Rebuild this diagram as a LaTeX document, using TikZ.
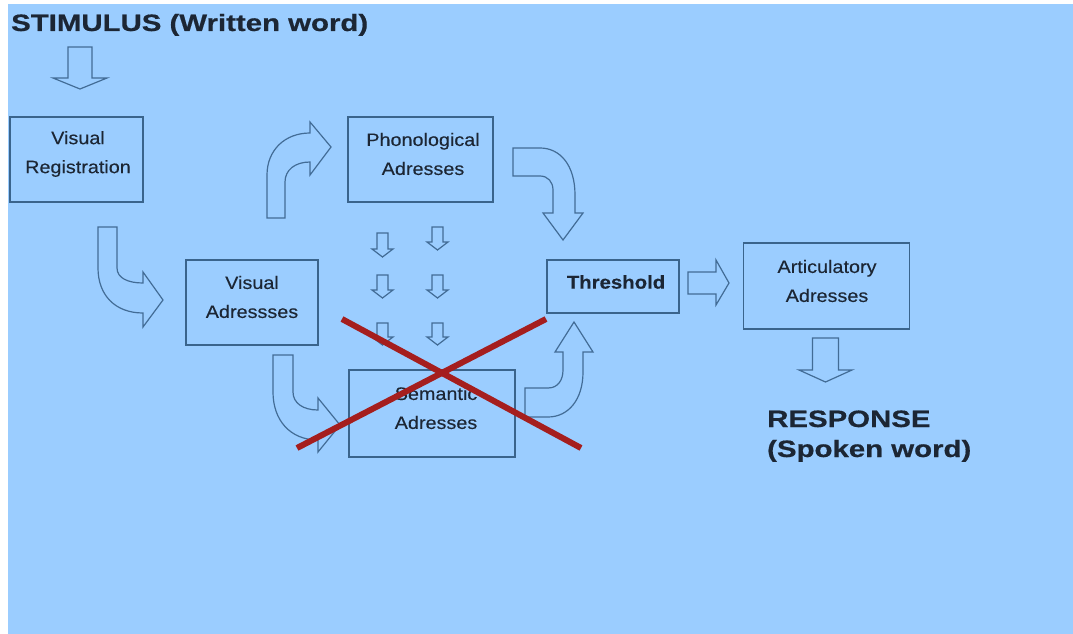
\documentclass[tikz,border=0pt]{standalone}
\usepackage{fontspec}
\setmainfont{Liberation Sans}
\newfontfamily\headfont[FakeStretch=1.24,FakeBold=0.6]{Liberation Sans}
\newfontfamily\boxfont[FakeStretch=1.1,FakeBold=0.25]{Liberation Sans}

\definecolor{panel}{RGB}{155,205,255}
\definecolor{frameline}{RGB}{58,100,140}
\definecolor{arrowline}{RGB}{66,108,150}
\definecolor{ink}{RGB}{28,38,52}
\definecolor{crossred}{RGB}{165,30,30}

% straight downward block arrow: centre x, top y, half shaft width, shaft end y, half head width, tip y
\newcommand\dnblock[6]{%
  \draw[blockarrow] (#1-#3,#2) -- (#1+#3,#2) -- (#1+#3,#4) -- (#1+#5,#4)
    -- (#1,#6) -- (#1-#5,#4) -- (#1-#3,#4) -- cycle;}

\tikzset{
  stagebox/.style={draw=frameline, line width=1.6pt, rectangle,
    inner sep=0pt, outer sep=0pt},
  stagetext/.style={text=ink, align=center, inner sep=0pt,
    font=\boxfont\fontsize{18}{29}\selectfont},
  headline/.style={text=ink, anchor=base west, inner sep=0pt,
    font=\headfont\bfseries\fontsize{23.7}{30}\selectfont},
  blockarrow/.style={draw=arrowline, line width=1.2pt, line join=miter},
  cross/.style={draw=crossred, line width=6pt},
}

\begin{document}
\begin{tikzpicture}[x=1pt, y=-1pt]
  \useasboundingbox (0,0) rectangle (1073,634);
  \fill[white] (0,0) rectangle (1073,634);
  \fill[panel] (8,4) rectangle (1073,634);

  % headings
  \node[headline] (stim) at (11,31) {STIMULUS (Written word)};
  \node[headline] (resp1) at (767,427) {RESPONSE};
  \node[headline] (resp2) at (767,457) {(Spoken word)};

  % processing stages
  \node[stagebox, minimum width=133pt, minimum height=85pt] (vr) at (76.5,159.5) {};
  \node[stagebox, minimum width=132pt, minimum height=85pt] (va) at (252,302.5) {};
  \node[stagebox, minimum width=145pt, minimum height=85pt] (ph) at (420.5,159.5) {};
  \node[stagebox, minimum width=166pt, minimum height=87pt] (se) at (432,413.5) {};
  \node[stagebox, minimum width=132pt, minimum height=53pt] (th) at (613,286.5) {};
  \node[stagebox, minimum width=166pt, minimum height=86pt] (ar) at (826.5,286) {};

  \node[stagetext] (vr-t) at (78,154) {Visual\\Registration};
  \node[stagetext] (va-t) at (252,297) {Visual\\Adressses};
  \node[stagetext] (ph-t) at (423,154) {Phonological\\Adresses};
  \node[stagetext] (se-t) at (436,408) {Semantic\\Adresses};
  \node[stagetext] (ar-t) at (827,281) {Articulatory\\Adresses};
  \node[stagetext, font=\boxfont\bfseries\fontsize{18.5}{29}\selectfont] (th-t) at (616,282) {Threshold};

  % straight block arrows
  \dnblock{80}{47}{12}{78}{27}{89}
  \dnblock{825.5}{338}{13}{370}{26.5}{382}
  \draw[blockarrow] (688,272) -- (716,272) -- (716,260) -- (729,283)
    -- (716,305) -- (716,294) -- (688,294) -- cycle;

  % small arrows between phonological and semantic stages
  \dnblock{382.5}{233}{5.5}{249}{10.5}{257}
  \dnblock{437.5}{227}{5.5}{242}{10.5}{250}
  \dnblock{382.5}{275}{5.5}{290}{10.5}{298}
  \dnblock{437.5}{275}{5.5}{290}{10.5}{298}
  \dnblock{382.5}{323}{5.5}{337}{10.5}{345}
  \dnblock{437.5}{323}{5.5}{337}{10.5}{345}

  % curved block arrows
  % visual registration -> visual addresses
  \draw[blockarrow] (98,227) -- (117,227) -- (117,268)
    .. controls (117,278) and (128,283) .. (143,283)
    -- (143,272) -- (163,300) -- (143,327) -- (143,313)
    .. controls (115,313) and (98,295) .. (98,268) -- cycle;
  % visual addresses -> phonological addresses
  \draw[blockarrow] (267,218) -- (267,175)
    .. controls (267,150) and (285,133) .. (310,133)
    -- (310,122) -- (331,147) -- (310,175) -- (310,162)
    .. controls (295,162) and (285,170) .. (285,182) -- (285,218) -- cycle;
  % phonological addresses -> threshold
  \draw[blockarrow] (513,148) -- (540,148)
    .. controls (560,148) and (575,165) .. (575,195)
    -- (575,213) -- (583,213) -- (563,240) -- (543,213) -- (553,213) -- (553,190)
    .. controls (553,182) and (548,176) .. (540,176) -- (513,176) -- cycle;
  % visual addresses -> semantic addresses
  \draw[blockarrow] (273,355) -- (293,355) -- (293,392)
    .. controls (293,403) and (303,410) .. (318,410)
    -- (318,398) -- (340,425) -- (318,452) -- (318,440)
    .. controls (290,440) and (273,420) .. (273,392) -- cycle;
  % semantic addresses -> threshold
  \draw[blockarrow] (525,388) -- (548,388)
    .. controls (558,388) and (563,380) .. (563,370)
    -- (563,352) -- (555,352) -- (574,322) -- (593,352) -- (583,352) -- (583,372)
    .. controls (583,400) and (568,417) .. (548,417) -- (525,417) -- cycle;

  % crossed-out semantic route
  \draw[cross] (297,448) -- (546,319);
  \draw[cross] (342,319) -- (581,448);
\end{tikzpicture}
\end{document}
